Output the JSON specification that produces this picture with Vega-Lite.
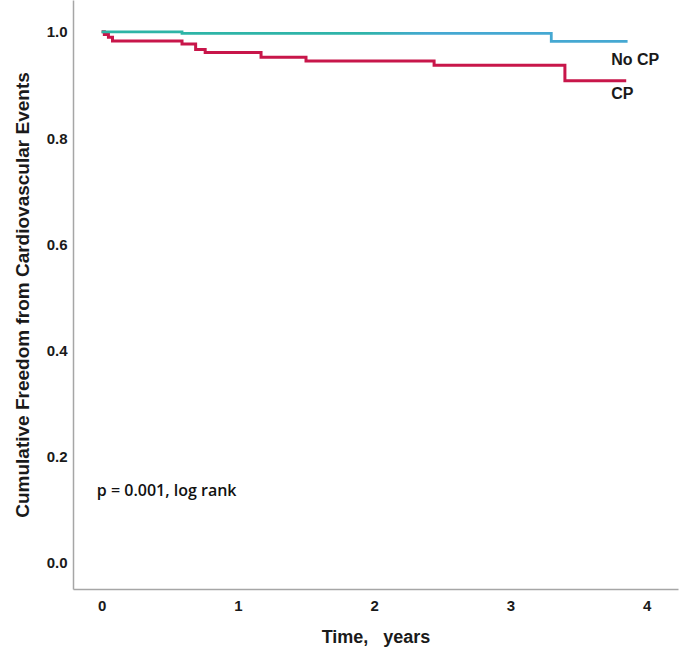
{
  "$schema": "https://vega.github.io/schema/vega-lite/v6.json",
  "autosize": {"type": "none"},
  "width": 605,
  "height": 589,
  "padding": {"left": 73, "top": 0, "right": 2, "bottom": 67},
  "config": {
    "view": {"stroke": null},
    "axis": {
      "grid": false,
      "ticks": false,
      "domainColor": "#a6a6a6",
      "domainWidth": 1.5,
      "labelFont": "Liberation Sans",
      "labelFontSize": 15,
      "labelFontWeight": "bold",
      "labelColor": "#1a1a1a",
      "titleFont": "Liberation Sans",
      "titleFontWeight": "bold",
      "titleColor": "#1a1a1a"
    }
  },
  "datasets": {
    "km": [
      {"group": "No CP", "time": 0, "surv": 1.0},
      {"group": "No CP", "time": 0.59, "surv": 0.997},
      {"group": "No CP", "time": 3.3, "surv": 0.982},
      {"group": "No CP", "time": 3.86, "surv": 0.982},
      {"group": "CP", "time": 0, "surv": 1.0},
      {"group": "CP", "time": 0.02, "surv": 0.995},
      {"group": "CP", "time": 0.05, "surv": 0.99},
      {"group": "CP", "time": 0.08, "surv": 0.983},
      {"group": "CP", "time": 0.59, "surv": 0.977},
      {"group": "CP", "time": 0.69, "surv": 0.967},
      {"group": "CP", "time": 0.76, "surv": 0.961},
      {"group": "CP", "time": 1.17, "surv": 0.952},
      {"group": "CP", "time": 1.5, "surv": 0.945},
      {"group": "CP", "time": 2.44, "surv": 0.937},
      {"group": "CP", "time": 3.4, "surv": 0.908},
      {"group": "CP", "time": 3.85, "surv": 0.908}
    ],
    "labels": [
      {"label": "No CP", "time": 3.74, "surv": 0.947},
      {"label": "CP", "time": 3.74, "surv": 0.883}
    ],
    "note": [
      {"label": "p = 0.001, log rank", "time": -0.035, "surv": 0.136}
    ]
  },
  "encoding": {
    "x": {
      "field": "time",
      "type": "quantitative",
      "scale": {"domain": [-0.21, 4.23], "nice": false, "zero": false},
      "axis": {"values": [0, 1, 2, 3, 4], "format": "d", "labelPadding": 9, "titlePadding": 15, "titleFontSize": 18, "title": "Time,\u00a0\u00a0 years"}
    },
    "y": {
      "field": "surv",
      "type": "quantitative",
      "scale": {"domain": [-0.049, 1.06], "nice": false, "zero": false},
      "axis": {"values": [0, 0.2, 0.4, 0.6, 0.8, 1.0], "format": ".1f", "labelPadding": 6, "titlePadding": 14, "titleFontSize": 19, "title": "Cumulative Freedom from Cardiovascular Events"}
    }
  },
  "layer": [
    {
      "data": {"name": "km"},
      "transform": [{"filter": "datum.group === 'CP'"}],
      "mark": {"type": "line", "interpolate": "step-after", "strokeWidth": 3, "color": "#c8164a"}
    },
    {
      "data": {"name": "km"},
      "transform": [{"filter": "datum.group === 'No CP'"}],
      "mark": {
        "type": "line",
        "interpolate": "step-after",
        "strokeWidth": 2.8,
        "color": {
          "gradient": "linear",
          "x1": 0, "y1": 0, "x2": 1, "y2": 0,
          "stops": [
            {"offset": 0, "color": "#2db5a5"},
            {"offset": 0.5, "color": "#2fb4aa"},
            {"offset": 0.62, "color": "#45a8d2"},
            {"offset": 1, "color": "#45a8d2"}
          ]
        }
      }
    },
    {
      "data": {"name": "labels"},
      "mark": {"type": "text", "align": "left", "baseline": "middle", "font": "Liberation Sans", "fontSize": 16, "fontWeight": "bold", "color": "#1a1a1a"},
      "encoding": {"text": {"field": "label"}}
    },
    {
      "data": {"name": "note"},
      "mark": {"type": "text", "align": "left", "baseline": "middle", "font": "Open Sans", "fontSize": 16, "fontWeight": 600, "color": "#111111"},
      "encoding": {"text": {"field": "label"}}
    }
  ]
}
